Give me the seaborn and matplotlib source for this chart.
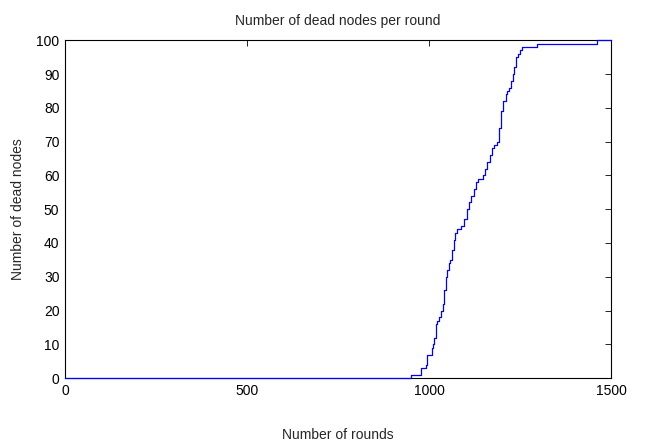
import numpy as np
import pandas as pd
import matplotlib
matplotlib.use("Agg")
import matplotlib.pyplot as plt
import seaborn as sns

# rounds at which the dead-node count changes, and the count from then on
change_rounds = [0, 949, 977, 991, 995, 1007, 1010, 1014, 1018, 1021, 1027,
                 1032, 1038, 1042, 1046, 1050, 1054, 1058, 1063, 1067, 1071,
                 1076, 1088, 1096, 1104, 1110, 1116, 1122, 1128, 1134, 1148,
                 1154, 1160, 1166, 1172, 1178, 1186, 1192, 1198, 1204, 1210,
                 1214, 1220, 1224, 1230, 1234, 1238, 1244, 1250, 1256, 1296,
                 1460, 1500]
dead_nodes = [0, 1, 3, 4, 7, 9, 10, 12, 16, 17, 18,
              20, 22, 26, 30, 32, 34, 35, 38, 41, 43,
              44, 45, 47, 50, 52, 54, 56, 58, 59, 60,
              62, 64, 66, 68, 69, 70, 74, 79, 82, 84,
              85, 86, 88, 90, 92, 95, 96, 97, 98, 99,
              100, 100]

x_ticks = [0, 500, 1000, 1500]
y_ticks = list(range(0, 101, 10))

df = pd.DataFrame({"round": change_rounds, "dead": dead_nodes})

sns.set_style("white")
plt.rcParams['font.family'] = ['Liberation Sans', 'DejaVu Sans']
plt.rcParams['font.size'] = 10

fig = plt.figure(figsize=(6.59, 4.47), dpi=100)
ax = fig.add_axes([0.0986, 0.154, 0.829, 0.756])

sns.lineplot(data=df, x="round", y="dead", ax=ax, color="#0000ff",
             linewidth=0.9, drawstyle="steps-post", estimator=None)
for ln in ax.lines:
    ln.set_clip_on(False)
    ln.set_zorder(5)

ax.set_xlim(0, 1500)
ax.set_ylim(0, 100)
ax.set_xticks(x_ticks)
ax.set_yticks(y_ticks)
ax.tick_params(direction="in", top=True, right=True, length=4, width=0.6,
               colors="black", labelsize=10, pad=4)
for s in ax.spines.values():
    s.set_visible(True)
    s.set_color("black")
    s.set_linewidth(0.8)

ax.set_title("Number of dead nodes per round", fontsize=10, pad=11)
ax.set_xlabel("Number of rounds", fontsize=10, labelpad=22)
ax.set_ylabel("Number of dead nodes", fontsize=10, labelpad=8)

fig.savefig("out.png", dpi=100, facecolor="white")
